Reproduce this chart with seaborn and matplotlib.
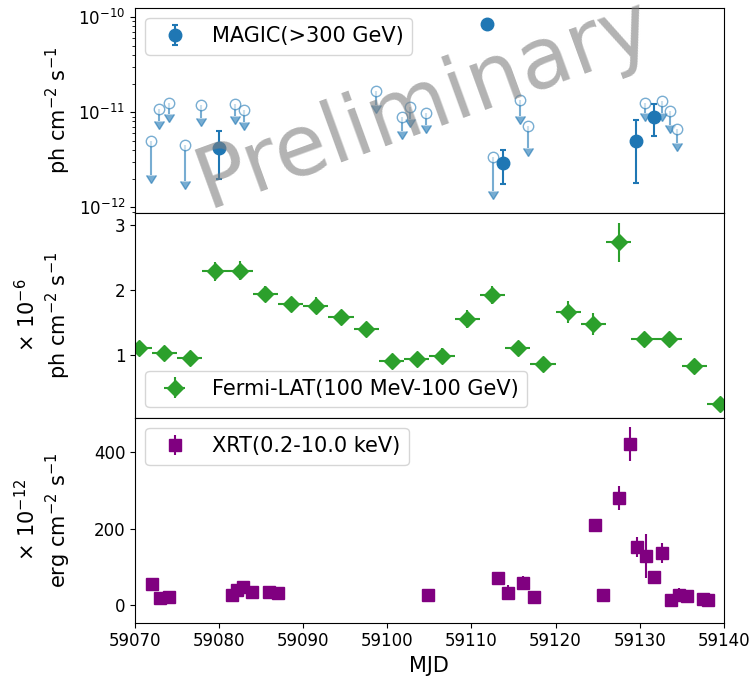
import numpy as np
import matplotlib
matplotlib.use("Agg")
import matplotlib.pyplot as plt
import seaborn as sns

# MAGIC (>300 GeV) detections, flux in units of 1e-12 ph cm-2 s-1
magic_t = [59080.0, 59111.8, 59113.7, 59129.6, 59131.65]
magic_f = [4.2, 85.0, 2.9, 5.0, 8.85]
magic_err = [2.2, 0.0, 1.13, 3.2, 3.2]

# MAGIC upper limits (same units), err = length of the arrow shaft
ul_t = [59071.9, 59072.9, 59074.0, 59076.0, 59077.9, 59081.9, 59082.95,
        59098.7, 59101.7, 59102.7, 59104.6, 59112.6, 59115.8, 59116.75,
        59130.65, 59132.6, 59133.55, 59134.5]
ul_f = [5.0, 10.9, 12.6, 4.5, 12.0, 12.1, 10.6,
        16.5, 9.0, 11.3, 9.8, 3.4, 13.5, 7.2,
        12.4, 13.0, 10.2, 6.6]
ul_err = [2.8, 2.9, 3.0, 2.6, 3.3, 3.0, 2.8,
          4.5, 2.7, 2.8, 2.4, 1.9, 4.3, 3.0,
          2.5, 3.3, 2.8, 1.9]

# Fermi-LAT (100 MeV-100 GeV), 3-day bins, units of 1e-6 ph cm-2 s-1
fermi_t = [59070.5, 59073.5, 59076.5, 59079.5, 59082.5, 59085.5, 59088.5,
           59091.5, 59094.5, 59097.5, 59100.5, 59103.5, 59106.5, 59109.5,
           59112.5, 59115.5, 59118.5, 59121.5, 59124.5, 59127.5, 59130.5,
           59133.5, 59136.5, 59139.5]
fermi_f = [1.10, 1.03, 0.95, 2.29, 2.30, 1.94, 1.78, 1.76, 1.59, 1.40, 0.90,
           0.93, 0.99, 1.56, 1.93, 1.10, 0.86, 1.67, 1.48, 2.74, 1.24, 1.25,
           0.83, 0.24]
fermi_err = [0.09, 0.08, 0.08, 0.145, 0.15, 0.12, 0.12, 0.13, 0.10, 0.08,
             0.085, 0.08, 0.11, 0.14, 0.14, 0.09, 0.10, 0.17, 0.17, 0.30,
             0.10, 0.10, 0.09, 0.085]
fermi_halfbin = 1.5

# Swift-XRT (0.2-10.0 keV), units of 1e-12 erg cm-2 s-1
xrt_t = [59072.0, 59073.0, 59074.0, 59081.5, 59082.1, 59082.9, 59083.9,
         59085.9, 59087.0, 59104.8, 59113.2, 59114.4, 59116.1, 59117.4,
         59124.7, 59125.7, 59127.5, 59128.8, 59129.7, 59130.7, 59131.7,
         59132.7, 59133.7, 59134.7, 59135.6, 59137.5, 59138.1]
xrt_f = [55, 20, 21, 28, 40, 48, 36, 36, 33, 27, 72, 33, 58, 23,
         211, 26, 280, 422, 153, 129, 74, 137, 15, 27, 24, 17, 13]
xrt_err = [5, 4, 4, 4, 5, 6, 4, 5, 4, 4, 6, 19, 19, 4,
           8, 5, 32, 44, 26, 58, 5, 26, 4, 19, 5, 4, 4]

sns.set_style("ticks", {"axes.edgecolor": "black", "xtick.color": "black",
                        "ytick.color": "black", "text.color": "black",
                        "axes.labelcolor": "black"})
plt.rcParams['font.family'] = ['DejaVu Sans']
plt.rcParams['axes.linewidth'] = 0.8

fig, axes = plt.subplots(3, 1, sharex=True, figsize=(7.5, 6.82), dpi=100)
fig.subplots_adjust(left=0.18, right=0.965, top=0.989, bottom=0.087, hspace=0)
ax1, ax2, ax3 = axes

# --- MAGIC
ul = np.array(ul_f) * 1e-12
ulerr = np.array(ul_err) * 1e-12
eb = ax1.errorbar(ul_t, ul, yerr=ulerr, uplims=True, fmt='o', color='C0',
                  mfc='white', ms=7.5, alpha=0.6, elinewidth=1.5, capsize=3.6)
# keep only the arrow heads, drop the flat cap at the data point
for cl in eb[1]:
    if cl.get_marker() == '_':
        cl.set_visible(False)
ax1.errorbar(magic_t, np.array(magic_f) * 1e-12, yerr=np.array(magic_err) * 1e-12,
             fmt='o', color='C0', ms=9, elinewidth=1.5, capsize=2.5,
             capthick=1.5, label='MAGIC(>300 GeV)')
ax1.set_yscale('log')
ax1.set_ylim(8.8e-13, 1.26e-10)
ax1.set_ylabel(r'ph cm$^{-2}$ s$^{-1}$', fontsize=15)
ax1.legend(loc='upper left', fontsize=15, frameon=True)

# --- Fermi
ax2.errorbar(fermi_t, fermi_f, xerr=fermi_halfbin, yerr=fermi_err, fmt='D',
             color='C2', ms=8, elinewidth=1.5, capsize=0,
             label='Fermi-LAT(100 MeV-100 GeV)')
ax2.set_ylim(0.03, 3.2)
ax2.set_yticks([1, 2, 3])
ax2.set_ylabel('× 10$^{-6}$\nph cm$^{-2}$ s$^{-1}$', fontsize=15)
ax2.legend(loc='lower left', fontsize=15, frameon=True)

# --- XRT
ax3.errorbar(xrt_t, xrt_f, yerr=xrt_err, fmt='s', color='purple', ms=8.5,
             elinewidth=1.5, capsize=0, label='XRT(0.2-10.0 keV)')
ax3.set_ylim(-45, 490)
ax3.set_yticks([0, 200, 400])
ax3.set_ylabel('× 10$^{-12}$\nerg cm$^{-2}$ s$^{-1}$', fontsize=15)
ax3.legend(loc='upper left', fontsize=15, frameon=True)

ax3.set_xlim(59070, 59140)
ax3.set_xlabel('MJD', fontsize=15)

for ax in axes:
    ax.tick_params(labelsize=12)
for ax in (ax1, ax2):
    ax.tick_params(axis='x', bottom=False)

fig.align_ylabels(axes)

fig.text(0.566, 0.847, 'Preliminary', fontsize=61, rotation=20,
         color='gray', alpha=0.6, ha='center', va='center', zorder=10)

fig.savefig('out.png', dpi=100)
